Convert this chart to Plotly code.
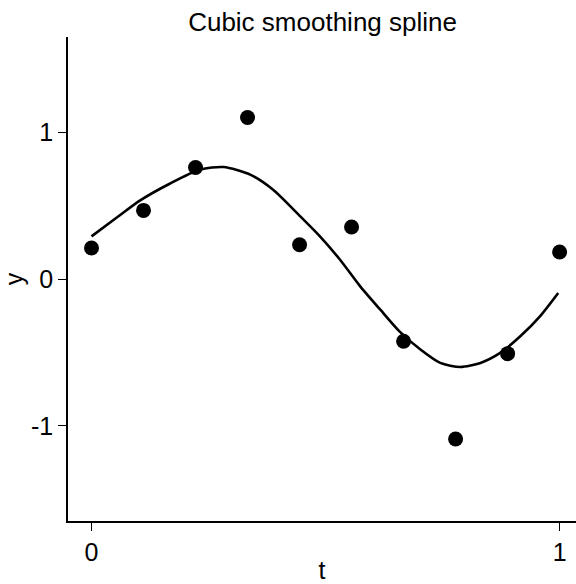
import plotly.graph_objects as go

# observed points
t_obs = [0, 1/9, 2/9, 3/9, 4/9, 5/9, 6/9, 7/9, 8/9, 1]
y_obs = [0.211, 0.467, 0.759, 1.099, 0.233, 0.354, -0.424, -1.089, -0.508, 0.184]

# smoothing spline curve
t_fit = [0.0, 0.054, 0.104, 0.168, 0.232, 0.282, 0.339, 0.388, 0.446, 0.488, 0.531,
         0.574, 0.617, 0.659, 0.702, 0.745, 0.788, 0.831, 0.873, 0.916, 0.958, 0.997]
y_fit = [0.29, 0.418, 0.535, 0.65, 0.745, 0.762, 0.71, 0.607, 0.426, 0.29, 0.131,
         -0.05, -0.209, -0.36, -0.478, -0.571, -0.599, -0.571, -0.503, -0.39, -0.254, -0.095]

x_ticks = [0, 1]
y_ticks = [-1, 0, 1]

fig = go.Figure()
fig.add_trace(go.Scatter(x=t_fit, y=y_fit, mode="lines",
                         line=dict(color="black", width=2.6, shape="spline", smoothing=0.7),
                         showlegend=False, hoverinfo="skip"))
fig.add_trace(go.Scatter(x=t_obs, y=y_obs, mode="markers",
                         marker=dict(color="black", size=15),
                         showlegend=False))

font = dict(family="Liberation Sans, Arial, sans-serif", size=24, color="black")
fig.update_layout(
    width=576, height=584,
    margin=dict(l=68, r=0, t=37, b=63),
    paper_bgcolor="white", plot_bgcolor="white",
    font=font,
    title=dict(text="Cubic smoothing spline", x=0.56, xanchor="center", y=0.962, yanchor="middle",
               font=dict(size=26)),
    xaxis=dict(range=[-0.0502, 1.035], tickvals=x_ticks, ticktext=[str(v) for v in x_ticks],
               showline=True, linecolor="black", linewidth=1.5, mirror=False,
               ticks="outside", ticklen=8, tickcolor="black", tickwidth=1,
               showgrid=False, zeroline=False, tickfont=dict(size=25),
               title=dict(text="t", standoff=2, font=dict(size=25)), fixedrange=True),
    yaxis=dict(range=[-1.647, 1.647], tickvals=y_ticks, ticktext=[str(v) for v in y_ticks],
               showline=True, linecolor="black", linewidth=1.5, mirror=False,
               ticks="outside", ticklen=8, tickcolor="black", tickwidth=1,
               showgrid=False, zeroline=False, tickfont=dict(size=25),
               title=dict(text="y", standoff=4, font=dict(size=25)), fixedrange=True),
)
fig.write_html("out.html")
